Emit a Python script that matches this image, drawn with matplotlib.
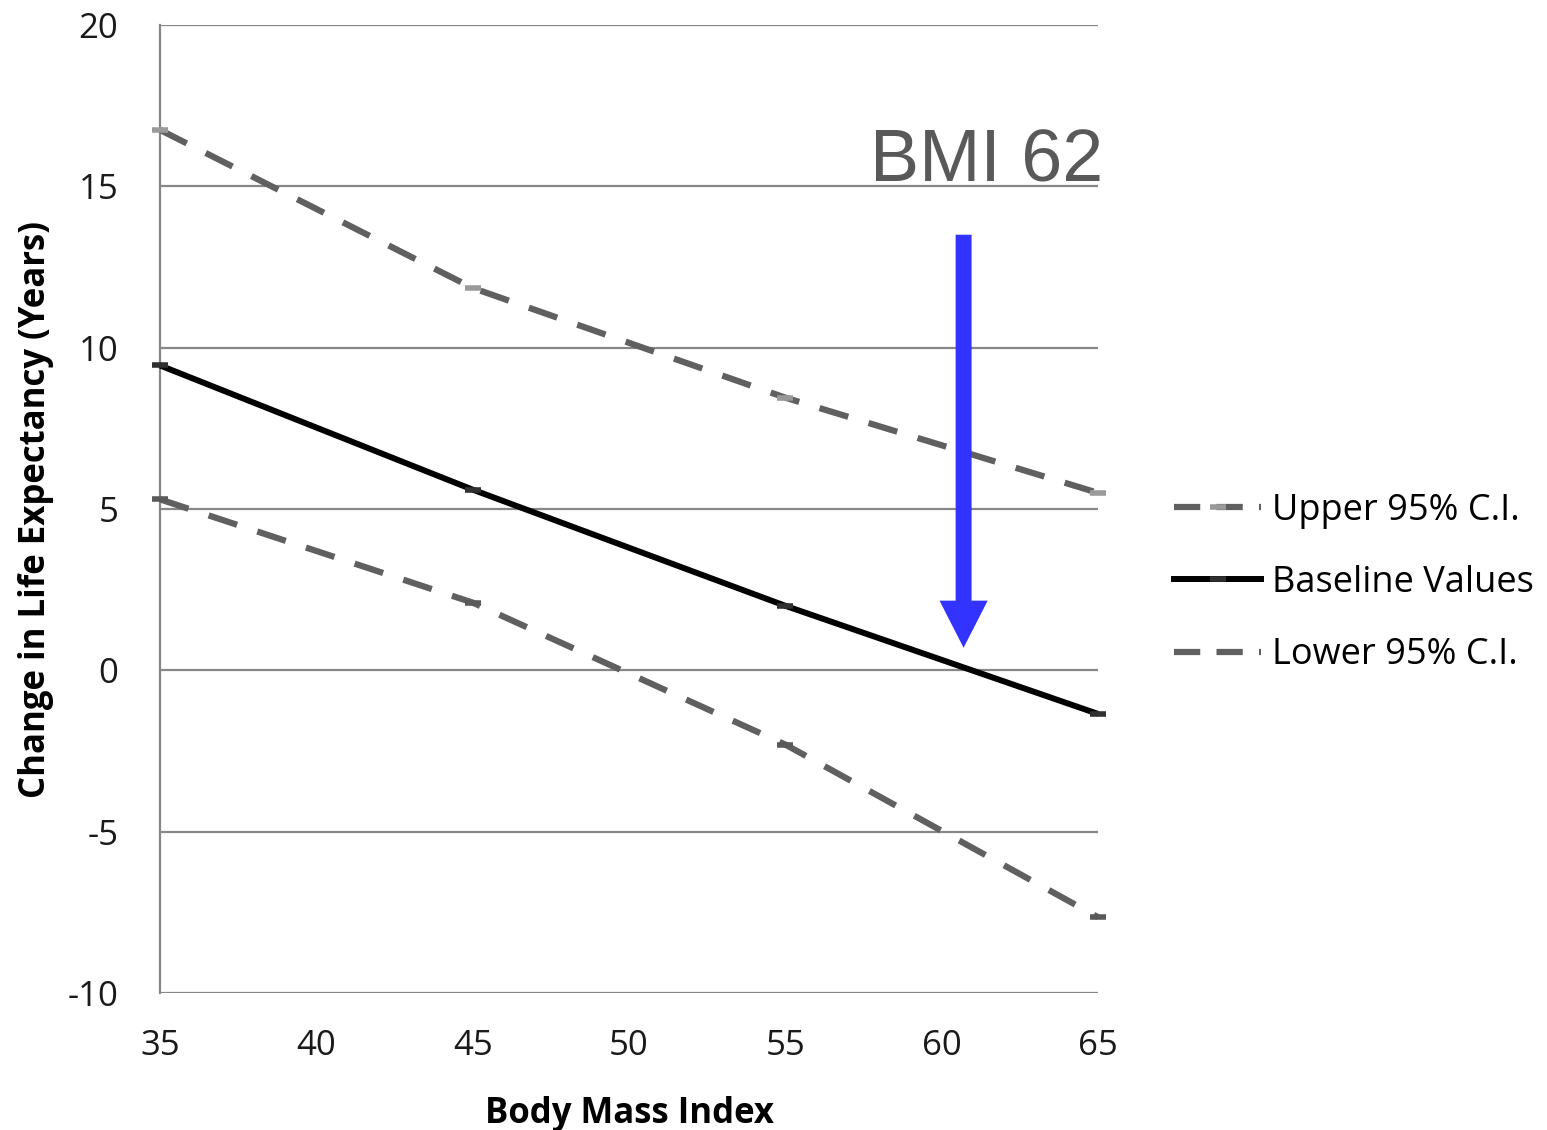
import matplotlib.pyplot as plt
from matplotlib.lines import Line2D

# data
bmi = [35, 45, 55, 65]
upper_ci = [16.75, 11.85, 8.45, 5.5]
baseline = [9.45, 5.6, 2.0, -1.35]
lower_ci = [5.3, 2.1, -2.3, -7.65]

y_ticks = [-10, -5, 0, 5, 10, 15, 20]
x_ticks = [35, 40, 45, 50, 55, 60, 65]

arrow_x = 60.7
arrow_top = 13.5
arrow_tip = 0.7

plt.rcParams['font.family'] = ['Open Sans', 'DejaVu Sans']
plt.rcParams['axes.unicode_minus'] = False

fig = plt.figure(figsize=(15.47, 11.30), dpi=100)
ax = fig.add_axes([0.1034, 0.1212, 0.6064, 0.8567])

dash_col = '#606060'
dash_pat = (4.8, 3.4)
ax.plot(bmi, upper_ci, color=dash_col, lw=4.5, dashes=dash_pat,
        marker='_', markersize=12, markeredgewidth=4, markeredgecolor='#9a9a9a',
        clip_on=False, zorder=3)
ax.plot(bmi, baseline, color='black', lw=4.3, solid_capstyle='butt',
        marker='_', markersize=12, markeredgewidth=4, markeredgecolor='#303030',
        clip_on=False, zorder=3)
ax.plot(bmi, lower_ci, color=dash_col, lw=4.5, dashes=dash_pat,
        marker='_', markersize=12, markeredgewidth=4, markeredgecolor='#5a5a5a',
        clip_on=False, zorder=3)

ax.set_xlim(35, 65)
ax.set_ylim(-10, 20)
ax.set_xticks(x_ticks)
ax.set_yticks(y_ticks)
ax.grid(axis='y', color='#878787', lw=1.6)
ax.set_axisbelow(True)
for s in ['top', 'right', 'bottom']:
    ax.spines[s].set_visible(False)
ax.spines['left'].set_color('#878787')
ax.spines['left'].set_linewidth(1.6)
ax.tick_params(length=0, labelsize=25, colors='#1a1a1a')
ax.tick_params(axis='y', pad=30)
ax.tick_params(axis='x', pad=26)

ax.set_xlabel('Body Mass Index', fontsize=25, fontweight='bold', labelpad=24)
ax.set_ylabel('Change in Life Expectancy (Years)', fontsize=25, fontweight='bold', labelpad=10)

# blue arrow pointing at where the baseline crosses zero
ax.arrow(arrow_x, arrow_top, 0, arrow_tip - arrow_top, width=0.51,
         head_width=1.54, head_length=1.46, length_includes_head=True,
         color='#3333ff', lw=0, zorder=5)
ax.text(65.15, 15.75, 'BMI 62', fontsize=53, color='#595959',
        family='Liberation Sans', ha='right', va='center')

handles = [
    Line2D([], [], color=dash_col, lw=4.5, dashes=(4.2, 2.6), marker='_',
           markersize=12, markeredgewidth=4, markeredgecolor='#9a9a9a'),
    Line2D([], [], color='black', lw=4.3, marker='_', markersize=12,
           markeredgewidth=4, markeredgecolor='#303030'),
    Line2D([], [], color=dash_col, lw=4.5, dashes=(4.2, 2.6)),
]
labels = ['Upper 95% C.I.', 'Baseline Values', 'Lower 95% C.I.']
fig.legend(handles, labels, loc='center left', bbox_to_anchor=(0.759, 0.484),
           frameon=False, fontsize=26, handlelength=2.4, handletextpad=0.3,
           labelspacing=1.0, borderaxespad=0, borderpad=0)

fig.savefig('out.png', dpi=100)
